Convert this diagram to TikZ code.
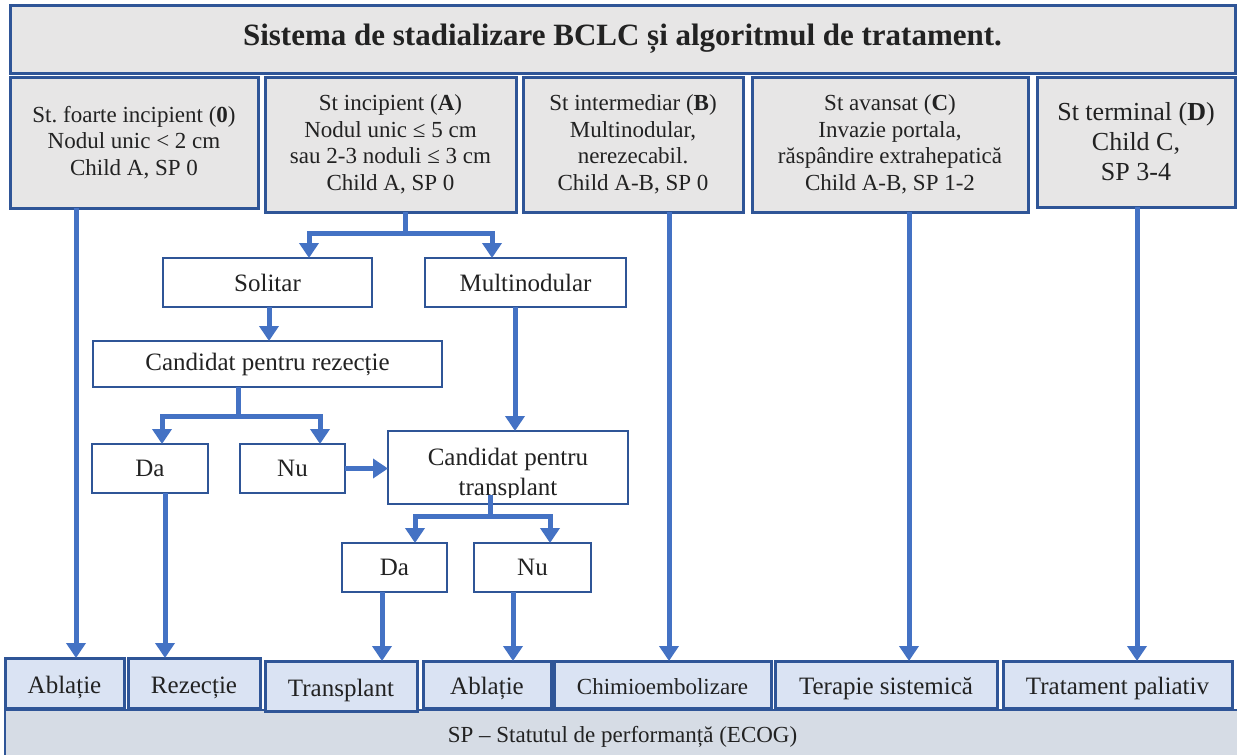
\documentclass[tikz,border=0pt]{standalone}
\usepackage{fontspec}
\setmainfont{Liberation Serif}
\usetikzlibrary{arrows.meta}
\frenchspacing

\definecolor{edgeblue}{HTML}{2F5597}
\definecolor{flowblue}{HTML}{4472C4}
\definecolor{panelgray}{HTML}{E7E6E6}
\definecolor{optionblue}{HTML}{DAE3F3}
\definecolor{notegray}{HTML}{D6DCE5}
\definecolor{inkgray}{HTML}{222222}

\tikzset{
  base/.style={rectangle, inner sep=0pt, outer sep=0pt, text=inkgray, align=center},
  sz/.style 2 args={minimum width=#1pt, minimum height=#2pt},
  titlebox/.style={base, draw=edgeblue, line width=3pt, fill=panelgray,
    font=\fontsize{31}{35}\selectfont\bfseries},
  stagebox/.style={base, draw=edgeblue, line width=3pt, fill=panelgray,
    font=\fontsize{23}{26.5}\selectfont},
  stepbox/.style={base, draw=edgeblue, line width=2.5pt, fill=white,
    font=\fontsize{25}{29}\selectfont},
  optbox/.style={base, draw=edgeblue, line width=3pt, fill=optionblue,
    font=\fontsize{25}{29}\selectfont, text height=24pt, text depth=4pt},
  notebox/.style={base, draw=edgeblue, line width=2.5pt, fill=notegray,
    font=\fontsize{23}{27}\selectfont, text height=18pt, text depth=6pt},
  flow/.style={draw=flowblue, line width=5pt, -{Triangle[width=19pt,length=15pt]}},
}

\begin{document}
\begin{tikzpicture}[x=1pt, y=-1pt]
\clip (0,0) rectangle (1237,755);

% heading
\node[titlebox, sz={1225}{68}] (title) at (622.5,39)
  {Sistema de stadializare BCLC și algoritmul de tratament.};

% BCLC stages
\node[stagebox, sz={248}{131}] (s0) at (134,142.5)
  {St. foarte incipient (\textbf{0})\\Nodul unic < 2 cm\\Child A, SP 0};
\node[stagebox, sz={251}{135}] (sa) at (390.5,144.5)
  {St incipient (\textbf{A})\\Nodul unic ≤ 5 cm\\sau 2-3 noduli ≤ 3 cm\\Child A, SP 0};
\node[stagebox, sz={220}{135}] (sb) at (633,144.5)
  {St intermediar (\textbf{B})\\Multinodular,\\nerezecabil.\\Child A-B, SP 0};
\node[stagebox, sz={276}{135}] (sc) at (890,144.5)
  {St avansat (\textbf{C})\\Invazie portala,\\răspândire extrahepatică\\Child A-B, SP 1-2};
\node[stagebox, sz={198}{130}, font=\fontsize{26}{30}\selectfont] (sd) at (1136,142)
  {St terminal (\textbf{D})\\Child C,\\SP 3-4};

% decision steps for stage A
\node[stepbox, sz={209}{49}] (sol) at (267.5,282.5) {Solitar};
\node[stepbox, sz={201}{49}] (mult) at (525.5,282.5) {Multinodular};
\node[stepbox, sz={349}{46}] (rez) at (267.5,364) {Candidat pentru rezecție};
\node[stepbox, sz={116}{49}] (da) at (150,468.5) {Da};
\node[stepbox, sz={105}{49}] (nu) at (292.5,468.5) {Nu};
\node[stepbox, sz={240}{73}] (ct) at (508,467.5) {};
\begin{scope}
  \clip (ct.north west) rectangle ([yshift=7pt]ct.south east);
  \node[base, anchor=north, font=\fontsize{25}{30}\selectfont] (cttext) at (508,448)
    {Candidat pentru\\transplant};
\end{scope}
\node[stepbox, sz={105}{49}] (da2) at (394.5,567.5) {Da};
\node[stepbox, sz={117}{49}] (nu2) at (532.5,567.5) {Nu};

% performance status note
\node[notebox, sz={1235}{52}] (sp) at (622.5,736)
  {SP – Statutul de performanță (ECOG)};

% treatments
\node[optbox, sz={119}{50}] (ab1) at (64.5,683) {Ablație};
\node[optbox, sz={132}{50}] (rz) at (194,683) {Rezecție};
\node[optbox, sz={152}{50}] (tr) at (341,686) {Transplant};
\node[optbox, sz={128}{47}] (ab2) at (487,684.5) {Ablație};
\node[optbox, sz={217}{47}, font=\fontsize{23}{27}\selectfont] (chim) at (662.5,684.5) {Chimioembolizare};
\node[optbox, sz={222}{47}] (ter) at (886,684.5) {Terapie sistemică};
\node[optbox, sz={229}{47}] (pal) at (1117.5,684.5) {Tratament paliativ};

% connectors
\draw[flow] ([xshift=-58pt]s0.south) -- ([xshift=-58pt]s0.south |- ab1.north);
\draw[flow] ([xshift=14.5pt]sa.south) -- ++(0,21) -| ([xshift=41.5pt]sol.north);
\draw[flow] ([xshift=14.5pt]sa.south) -- ++(0,21) -| ([xshift=-33.5pt]mult.north);
\draw[flow] ([xshift=1.5pt]sol.south) -- ([xshift=1.5pt]sol.south |- rez.north);
\draw[flow] ([xshift=-29.5pt]rez.south) -- ++(0,29) -| ([xshift=12pt]da.north);
\draw[flow] ([xshift=-29.5pt]rez.south) -- ++(0,29) -| ([xshift=27.5pt]nu.north);
\draw[flow] (nu.east) -- (nu.east -| ct.west);
\draw[flow] ([xshift=-10.5pt]mult.south) -- ([xshift=-10.5pt]mult.south |- ct.north);
\draw[flow] ([xshift=-18pt,yshift=9pt]ct.south) -- ++(0,21) -| ([xshift=20.5pt]da2.north);
\draw[flow] ([xshift=-18pt,yshift=9pt]ct.south) -- ++(0,21) -| ([xshift=17.5pt]nu2.north);
\draw[flow] ([xshift=15pt]da.south) -- ([xshift=15pt]da.south |- rz.north);
\draw[flow] ([xshift=-12.5pt]da2.south) -- ([xshift=-12.5pt]da2.south |- tr.north);
\draw[flow] ([xshift=-19.5pt]nu2.south) -- ([xshift=-19.5pt]nu2.south |- ab2.north);
\draw[flow] ([xshift=36pt]sb.south) -- ([xshift=36pt]sb.south |- chim.north);
\draw[flow] ([xshift=19pt]sc.south) -- ([xshift=19pt]sc.south |- ter.north);
\draw[flow] ([xshift=1pt]sd.south) -- ([xshift=1pt]sd.south |- pal.north);
\end{tikzpicture}
\end{document}
